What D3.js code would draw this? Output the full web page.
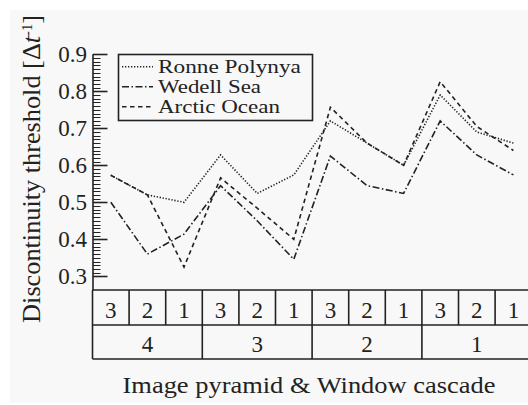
<!DOCTYPE html>
<html><head><meta charset="utf-8">
<script src="https://cdn.jsdelivr.net/npm/d3@7"></script>
<style>html,body{margin:0;padding:0;background:#fff}svg{display:block}</style>
</head><body>
<script>
// ---- data ----
const levels = ["4","3","2","1"];            // image pyramid
const windows = ["3","2","1"];               // window cascade
const seriesNames = ["Ronne Polynya","Wedell Sea","Arctic Ocean"];
const ronne  = [0.573,0.520,0.500,0.628,0.524,0.574,0.720,0.660,0.600,0.790,0.690,0.660];
const wedell = [0.500,0.360,0.414,0.545,0.450,0.346,0.625,0.545,0.524,0.720,0.628,0.574];
const arctic = [0.573,0.520,0.325,0.566,0.484,0.400,0.757,0.660,0.600,0.826,0.705,0.640];
const yTicks = [0.3,0.4,0.5,0.6,0.7,0.8,0.9];

const W=528,H=405;
const FONT="Liberation Serif";
const ink="#222";
const svg=d3.select("body").append("svg").attr("width",W).attr("height",H);
svg.append("rect").attr("x",10).attr("y",10).attr("width",W-10).attr("height",393).attr("fill","#f8f8f8");

const cats=[];
levels.forEach(l=>windows.forEach(w=>cats.push(l+"-"+w)));
const left=92.5, colW=36.6;
const x=d3.scaleBand().domain(cats).range([left,left+colW*cats.length]).padding(0);
const y=d3.scaleLinear().domain([0.3,0.9]).range([276.3,54.3]);
const tableTop=290, tableMid=325, tableBot=359;

// stretch a text horizontally (along its direction) to a target width
function stretch(sel,target,tx,ty,rot){
  const w=sel.node().getBBox().width;
  sel.attr("transform",`translate(${tx},${ty}) rotate(${rot||0}) scale(${target/w},1)`);
}

// y axis line
svg.append("line").attr("x1",left+0.5).attr("x2",left+0.5).attr("y1",y(0.9)).attr("y2",tableTop)
  .attr("stroke",ink).attr("stroke-width",1.6);
const isMajor=d=>yTicks.some(t=>Math.abs(t-d)<1e-9);
const minor=d3.range(30,91).map(v=>v/100);
svg.append("g").selectAll("line").data(minor).join("line")
  .attr("x1",left+0.5).attr("x2",d=>isMajor(d)?left+15:left+8)
  .attr("y1",d=>Math.round(y(d))+0.5).attr("y2",d=>Math.round(y(d))+0.5)
  .attr("stroke",ink).attr("stroke-width",d=>isMajor(d)?1.6:1);
const TFS=23;
svg.append("g").selectAll("text").data(yTicks).join("text")
  .attr("x",87).attr("y",d=>y(d)).attr("dy","0.34em").attr("text-anchor","end")
  .attr("font-family",FONT).attr("font-size",TFS).attr("fill",ink).text(d=>d.toFixed(1));

// table
const tbl=svg.append("g").attr("stroke",ink).attr("stroke-width",1.6).attr("fill","none");
const right=left+colW*cats.length;
[tableTop,tableMid,tableBot].forEach(yy=>tbl.append("line").attr("x1",left).attr("x2",right).attr("y1",yy).attr("y2",yy));
cats.forEach(c=>tbl.append("line").attr("x1",x(c)).attr("x2",x(c)).attr("y1",tableTop).attr("y2",tableMid));
levels.forEach(l=>tbl.append("line").attr("x1",x(l+"-3")).attr("x2",x(l+"-3")).attr("y1",tableMid).attr("y2",tableBot));
svg.append("g").selectAll("text").data(cats).join("text")
  .attr("x",c=>x(c)+x.bandwidth()/2).attr("y",318).attr("text-anchor","middle")
  .attr("font-family",FONT).attr("font-size",TFS).attr("fill",ink).text(c=>c.split("-")[1]);
svg.append("g").selectAll("text").data(levels).join("text")
  .attr("x",l=>x(l+"-3")+1.5*x.bandwidth()).attr("y",352).attr("text-anchor","middle")
  .attr("font-family",FONT).attr("font-size",TFS).attr("fill",ink).text(l=>l);

// axis titles
const xt=svg.append("text").attr("text-anchor","middle")
  .attr("font-family",FONT).attr("font-size",24).attr("fill",ink).text("Image pyramid & Window cascade");
stretch(xt,373,309,393,0);
const yt=svg.append("text").attr("text-anchor","middle")
  .attr("font-family",FONT).attr("font-size",25).attr("fill",ink);
yt.append("tspan").text("Discontinuity threshold [Δ");
yt.append("tspan").attr("font-style","italic").text("t");
yt.append("tspan").attr("dy","-0.55em").attr("font-size","0.55em").text("-1");
yt.append("tspan").attr("dy","0.3em").text("]");
stretch(yt,308,40,169,-90);

// lines
const dashes=["1.3,1.7","7,2.5,1.5,2.5","4.5,3.5"];
const data=[ronne,wedell,arctic];
const line=d3.line().x((d,i)=>x(cats[i])+x.bandwidth()/2).y(d=>y(d));
svg.append("g").selectAll("path").data(data).join("path")
  .attr("d",line).attr("fill","none").attr("stroke",ink).attr("stroke-width",1.6)
  .attr("stroke-dasharray",(d,i)=>dashes[i]);

// legend
const legW=[143,103,122];
const lg=svg.append("g");
lg.append("rect").attr("x",118.5).attr("y",54.5).attr("width",194).attr("height",66)
  .attr("fill","#f8f8f8").attr("stroke",ink).attr("stroke-width",1.6);
seriesNames.forEach((name,i)=>{
  const yy=73.3+i*20;
  lg.append("line").attr("x1",122).attr("x2",153).attr("y1",yy-6.5).attr("y2",yy-6.5)
    .attr("stroke",ink).attr("stroke-width",1.6).attr("stroke-dasharray",dashes[i]);
  const t=lg.append("text").attr("font-family",FONT).attr("font-size",18.5).attr("fill",ink).text(name);
  stretch(t,legW[i],158,yy,0);
});
</script>
</body></html>
